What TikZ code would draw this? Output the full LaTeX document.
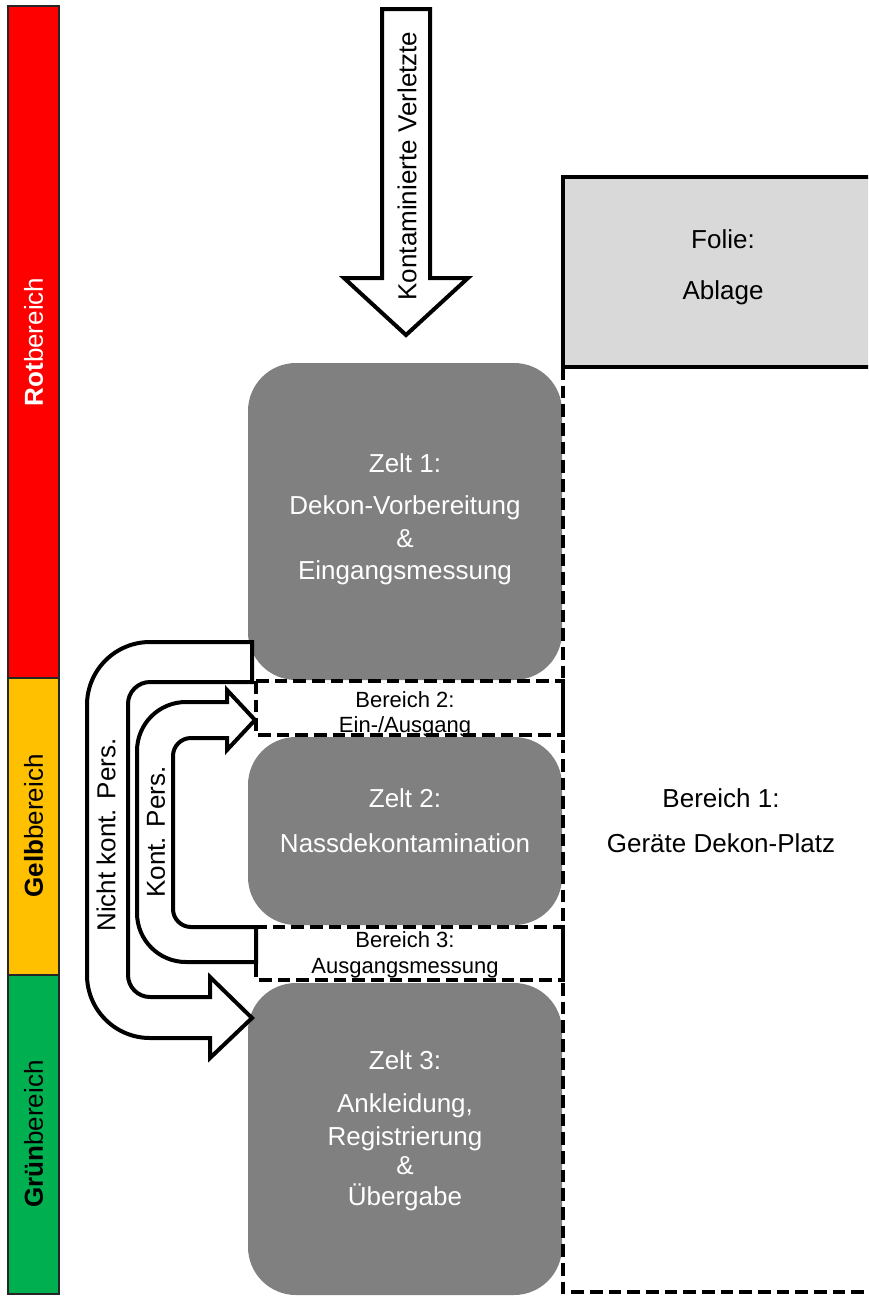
\documentclass[tikz,border=0pt]{standalone}
\usepackage{fontspec}
\setmainfont{Liberation Sans}
\definecolor{zonered}{RGB}{255,0,0}
\definecolor{zoneyellow}{RGB}{255,192,0}
\definecolor{zonegreen}{RGB}{0,176,80}
\definecolor{tentgray}{RGB}{128,128,128}
\definecolor{foilgray}{RGB}{217,217,217}
\newcommand{\bigtext}{\fontsize{19.5}{23}\selectfont}
\newcommand{\areatext}{\fontsize{16.5}{20}\selectfont}
\tikzset{
  zonebar/.style={draw=black!85, line width=0.8pt},
  tent/.style={fill=tentgray, rounded corners=36pt},
  dashedarea/.style={draw=black, line width=2.6pt, dash pattern=on 9.5pt off 4.5pt},
  flowarrow/.style={draw=black, fill=white, line width=3pt, line join=miter},
  lbl/.style={font=\bigtext, anchor=base, inner sep=0pt},
  tentlbl/.style={lbl, text=white},
  arealbl/.style={font=\areatext, anchor=base, inner sep=0pt},
  sidelbl/.style={font=\bigtext, rotate=90, inner sep=0pt},
}
\begin{document}
\begin{tikzpicture}[x=0.75pt,y=-0.75pt]
\clip (0,0) rectangle (868,1296);
\fill[white] (0,0) rectangle (868,1296);

% zone bars
\draw[zonebar, fill=zonered] (8,6) rectangle (59,678);
\draw[zonebar, fill=zoneyellow] (8,678) rectangle (59,975);
\draw[zonebar, fill=zonegreen] (8,975) rectangle (59,1294);
\node[sidelbl, text=white] (rot) at (33.5,342) {\textbf{Rot}bereich};
\node[sidelbl] (gelb) at (33.5,826) {\textbf{Gelb}bereich};
\node[sidelbl] (gruen) at (33.5,1134) {\textbf{Grün}bereich};

% foil storage
\draw[fill=foilgray, line width=2.3pt] (563,177) rectangle (880,367);
\node[lbl] (folie1) at (723,248) {Folie:};
\node[lbl] (folie2) at (723,299) {Ablage};

% tents
\fill[tent] (248,363) rectangle (562,680);
\fill[tent] (248,737) rectangle (562,925);
\fill[tent] (248,983) rectangle (562,1295);

% area boundaries
\draw[dashedarea] (563,367) -- (563,1292) -- (880,1292);
\draw[dashedarea] (256,681) rectangle (563,735);
\draw[dashedarea] (256,927) rectangle (563,980);

% incoming casualties
\draw[flowarrow] (382,9) -- (430,9) -- (430,278) -- (468,278) -- (406,335)
  -- (344,278) -- (382,278) -- cycle;
\node[sidelbl] (kv) at (407,166) {Kontaminierte Verletzte};

% non-contaminated persons: tent 1 to tent 3
\draw[flowarrow] (252,642) -- (150,642)
  .. controls (115.2,642) and (87,670.2) .. (87,705)
  -- (87,975) .. controls (87,1009.8) and (115.2,1038) .. (150,1038)
  -- (210,1038) -- (210,1058) -- (252,1018) -- (210,977) -- (210,997)
  -- (150,997) .. controls (137.9,997) and (128,987.1) .. (128,975)
  -- (128,704) .. controls (128,691.9) and (137.9,682) .. (150,682)
  -- (252,682) -- cycle;

% contaminated persons: area 3 back to area 2
\draw[flowarrow] (256,962) -- (186,962)
  .. controls (158.9,962) and (137,940.1) .. (137,913)
  -- (137,751) .. controls (137,723.9) and (158.9,702) .. (186,702)
  -- (227,702) -- (227,690) -- (255,720) -- (227,750) -- (227,738)
  -- (191,738) .. controls (181.1,738) and (173,746.1) .. (173,756)
  -- (173,909) .. controls (173,918.9) and (181.1,927) .. (191,927)
  -- (256,927) -- cycle;
\node[sidelbl] (nk) at (106,835) {Nicht kont. Pers.};
\node[sidelbl] (kp) at (156,832) {Kont. Pers.};

% tent 1
\node[tentlbl] (z1a) at (405,472) {Zelt 1:};
\node[tentlbl] (z1b) at (405,514) {Dekon-Vorbereitung};
\node[tentlbl] (z1c) at (405,547) {\&};
\node[tentlbl] (z1d) at (405,579) {Eingangsmessung};

% area 2
\node[arealbl] (b2a) at (405,707) {Bereich 2:};
\node[arealbl] (b2b) at (405,732) {Ein-/Ausgang};

% tent 2
\node[tentlbl] (z2a) at (405,807) {Zelt 2:};
\node[tentlbl] (z2b) at (405,852) {Nassdekontamination};

% area 3
\node[arealbl] (b3a) at (405,947) {Bereich 3:};
\node[arealbl] (b3b) at (405,973) {Ausgangsmessung};

% area 1
\node[lbl] (b1a) at (721,807) {Bereich 1:};
\node[lbl] (b1b) at (721,852) {Geräte Dekon-Platz};

% tent 3
\node[tentlbl] (z3a) at (405,1069) {Zelt 3:};
\node[tentlbl] (z3b) at (405,1112) {Ankleidung,};
\node[tentlbl] (z3c) at (405,1145) {Registrierung};
\node[tentlbl] (z3d) at (405,1174) {\&};
\node[tentlbl] (z3e) at (405,1205) {Übergabe};
\end{tikzpicture}
\end{document}
